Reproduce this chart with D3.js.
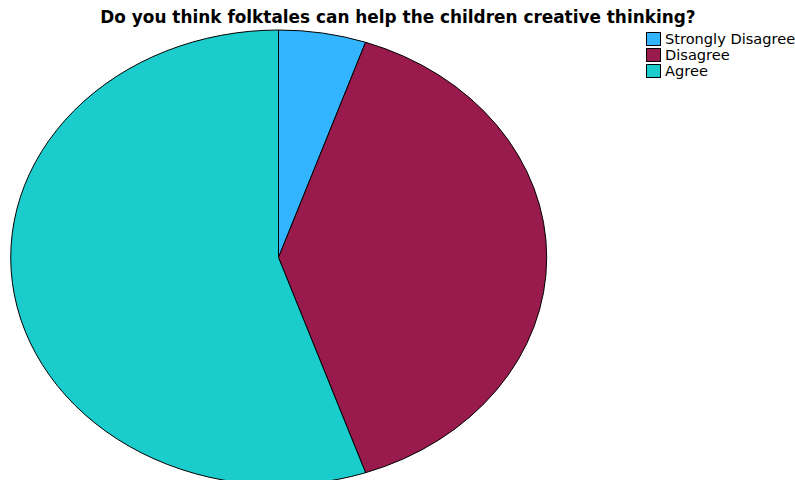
<!DOCTYPE html>
<html>
<head>
<meta charset="utf-8">
<script src="https://cdn.jsdelivr.net/npm/d3@7/dist/d3.min.js"></script>
<style>
  html, body { margin: 0; padding: 0; background: #fff; }
  svg { display: block; }
</style>
</head>
<body>
<svg id="chart" width="795" height="480"></svg>
<script>
// Survey responses
const categories = ["Strongly Disagree", "Disagree", "Agree"];
const counts = [2, 15, 21];
const colors = ["#33b4ff", "#991a4d", "#1acccc"];
const title = "Do you think folktales can help the children creative thinking?";

const svg = d3.select("#chart");

// Elliptical pie: unit-radius arcs stretched to the ellipse
const cx = 278.5, cy = 257.5, rx = 268, ry = 227.5;

const pie = d3.pie().sort(null).value(d => d.value);
const arc = d3.arc().innerRadius(0).outerRadius(1);
const data = categories.map((c, i) => ({ name: c, value: counts[i], color: colors[i] }));

svg.append("g")
  .attr("transform", `translate(${cx},${cy}) scale(${rx},${ry})`)
  .selectAll("path")
  .data(pie(data))
  .join("path")
  .attr("d", arc)
  .attr("fill", d => d.data.color)
  .attr("stroke", "#000")
  .attr("stroke-width", 1)
  .attr("vector-effect", "non-scaling-stroke");

// Title
svg.append("text")
  .attr("x", 398)
  .attr("y", 23)
  .attr("text-anchor", "middle")
  .attr("font-family", "DejaVu Sans, Verdana, sans-serif")
  .attr("font-weight", "bold")
  .attr("font-size", 16.9)
  .attr("fill", "#000")
  .text(title);

// Legend
const legend = svg.append("g").attr("transform", "translate(646,32)");
const row = legend.selectAll("g").data(data).join("g")
  .attr("transform", (d, i) => `translate(0,${i * 16})`);
row.append("rect")
  .attr("x", 0.5).attr("y", 0.5)
  .attr("width", 14).attr("height", 13)
  .attr("fill", d => d.color)
  .attr("stroke", "#000")
  .attr("stroke-width", 1);
row.append("text")
  .attr("x", 19)
  .attr("y", 12)
  .attr("font-family", "DejaVu Sans, Verdana, sans-serif")
  .attr("font-size", 14.6)
  .attr("fill", "#000")
  .text(d => d.name);
</script>
</body>
</html>
